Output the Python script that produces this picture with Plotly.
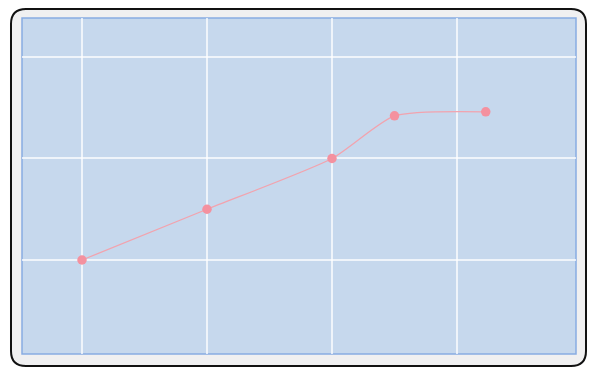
import plotly.graph_objects as go

x_vals = [0, 1, 2, 2.5, 3.23]
y_vals = [10, 15, 20, 24.2, 24.6]
x_ticks = [0, 1, 2, 3]
y_ticks = [10, 20, 30]

L, R, T, B = 22, 24, 18, 23
W, H = 600, 377
pw, ph = W - L - R, H - T - B


def px2paper(px, py):
    return (px - L) / pw, 1 - (py - T) / ph


def rounded_path(x0, y0, x1, y1, r):
    def P(a, b):
        u, v = px2paper(a, b)
        return f"{u:.5f},{v:.5f}"
    d = (f"M{P(x0 + r, y0)} L{P(x1 - r, y0)} Q{P(x1, y0)} {P(x1, y0 + r)} "
         f"L{P(x1, y1 - r)} Q{P(x1, y1)} {P(x1 - r, y1)} "
         f"L{P(x0 + r, y1)} Q{P(x0, y1)} {P(x0, y1 - r)} "
         f"L{P(x0, y0 + r)} Q{P(x0, y0)} {P(x0 + r, y0)} Z")
    return d


fig = go.Figure()
fig.add_trace(go.Scatter(
    x=x_vals, y=y_vals, mode="lines+markers",
    line=dict(color="#f2a3ae", width=1.3, shape="spline", smoothing=0.6),
    marker=dict(color="#f4919f", size=9.5),
    hoverinfo="skip",
))

fig.add_shape(type="path", xref="paper", yref="paper", layer="below",
              path=rounded_path(11, 9, 586, 366, 15),
              fillcolor="#f0f0f1", line=dict(color="#111111", width=2))
fig.add_shape(type="rect", xref="paper", yref="paper", layer="below",
              x0=0, y0=0, x1=1, y1=1,
              fillcolor="#c6d8ed", line=dict(color="#88ace2", width=1.5))

fig.update_layout(
    width=W, height=H,
    margin=dict(l=L, r=R, t=T, b=B),
    paper_bgcolor="white",
    plot_bgcolor="rgba(0,0,0,0)",
    showlegend=False,
)
fig.update_xaxes(range=[-0.48, 3.952], tickvals=x_ticks, showticklabels=False,
                 showgrid=True, gridcolor="rgba(255,255,255,0.72)", gridwidth=1.5,
                 zeroline=False, showline=False, ticks="")
fig.update_yaxes(range=[0.74, 33.84], tickvals=y_ticks, showticklabels=False,
                 showgrid=True, gridcolor="rgba(255,255,255,0.72)", gridwidth=1.5,
                 zeroline=False, showline=False, ticks="")

fig.write_html("out.html")
